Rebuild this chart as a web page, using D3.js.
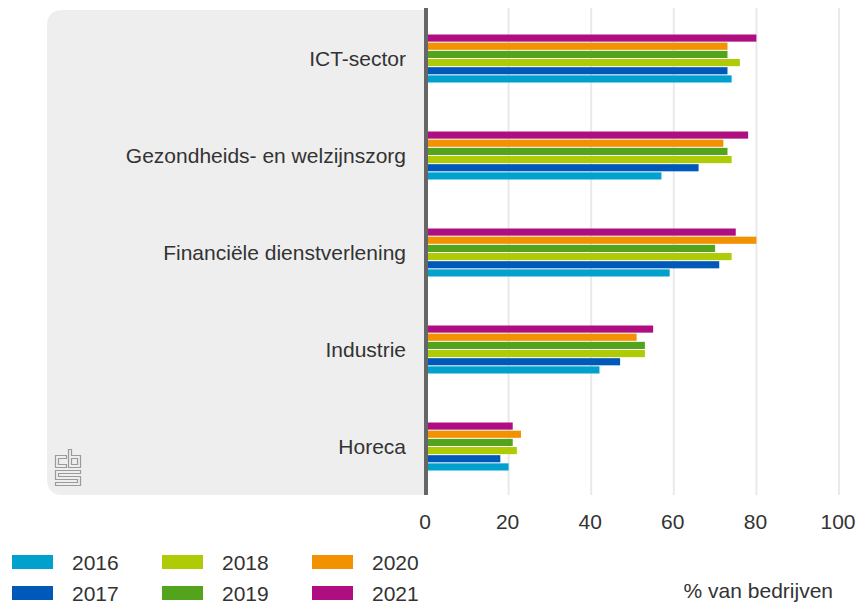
<!DOCTYPE html>
<html>
<head>
<meta charset="utf-8">
<script src="https://cdn.jsdelivr.net/npm/d3@7"></script>
<style>
  body { margin: 0; background: #fff; }
  svg { display: block; font-family: "Liberation Sans", Arial, sans-serif; }
</style>
</head>
<body>
<script>
// categories top to bottom
const categories = ["ICT-sector", "Gezondheids- en welzijnszorg", "Financiële dienstverlening", "Industrie", "Horeca"];
const years = ["2016", "2017", "2018", "2019", "2020", "2021"];
const colors = ["#00a1cd", "#0058b8", "#afcb05", "#53a31d", "#f39200", "#af0e80"];

// % van bedrijven, per year, in category order
const v2016 = [74, 57, 59, 42, 20];
const v2017 = [73, 66, 71, 47, 18];
const v2018 = [76, 74, 74, 53, 22];
const v2019 = [73, 73, 70, 53, 21];
const v2020 = [73, 72, 80, 51, 23];
const v2021 = [80, 78, 75, 55, 21];
const series = [v2016, v2017, v2018, v2019, v2020, v2021];

const xTicks = [0, 20, 40, 60, 80, 100];

const width = 861, height = 605;
const svg = d3.select("body").append("svg")
  .attr("width", width)
  .attr("height", height);

const x = d3.scaleLinear().domain([0, 100]).range([426, 839]);
const y = d3.scaleBand().domain(categories).range([10, 495]);
// bars inside a group: 2021 on top, 2016 at the bottom
const yInner = d3.scaleBand().domain(years.slice().reverse()).range([-24, 24]).paddingInner(0.125);

// grey label panel with rounded left corners
const px0 = 47, px1 = x(0), py0 = 10, py1 = 495, r = 16;
svg.append("path")
  .attr("fill", "#eeeeee")
  .attr("d", `M${px1},${py0} H${px0 + r} Q${px0},${py0} ${px0},${py0 + r} V${py1 - r} Q${px0},${py1} ${px0 + r},${py1} H${px1} Z`);

// gridlines
svg.append("g")
  .selectAll("line")
  .data(xTicks.slice(1))
  .join("line")
  .attr("x1", d => x(d)).attr("x2", d => x(d))
  .attr("y1", 8).attr("y2", 495)
  .attr("stroke", "#e9e9e9")
  .attr("stroke-width", 2);

// bars
const groups = svg.append("g")
  .selectAll("g")
  .data(categories)
  .join("g")
  .attr("transform", d => `translate(0,${y(d) + y.bandwidth() / 2})`);

groups.selectAll("rect")
  .data((c, i) => years.map((yr, j) => ({ year: yr, value: series[j][i], color: colors[j] })))
  .join("rect")
  .attr("x", x(0))
  .attr("y", d => yInner(d.year))
  .attr("width", d => x(d.value) - x(0))
  .attr("height", yInner.bandwidth())
  .attr("fill", d => d.color);

// category labels
groups.append("text")
  .attr("x", 406)
  .attr("y", 7)
  .attr("text-anchor", "end")
  .attr("font-size", 21)
  .attr("fill", "#333")
  .text(d => d);

// vertical axis line
svg.append("line")
  .attr("x1", x(0)).attr("x2", x(0))
  .attr("y1", 8).attr("y2", 495)
  .attr("stroke", "#666")
  .attr("stroke-width", 4);

// x tick labels
svg.append("g")
  .selectAll("text")
  .data(xTicks)
  .join("text")
  .attr("x", d => x(d) - 1)
  .attr("y", 529)
  .attr("text-anchor", "middle")
  .attr("font-size", 21)
  .attr("fill", "#333")
  .text(d => d);

// legend
const legend = svg.append("g");
const leg = legend.selectAll("g")
  .data(years)
  .join("g")
  .attr("transform", (d, i) => `translate(${12 + Math.floor(i / 2) * 150},${i % 2 === 0 ? 555 : 586})`);
leg.append("rect")
  .attr("width", 41).attr("height", 14)
  .attr("fill", (d, i) => colors[i]);
leg.append("text")
  .attr("x", 60).attr("y", 15)
  .attr("font-size", 21)
  .attr("fill", "#333")
  .text(d => d);

svg.append("text")
  .attr("x", 833).attr("y", 598)
  .attr("text-anchor", "end")
  .attr("font-size", 21)
  .attr("fill", "#333")
  .text("% van bedrijven");

// cbs logo (outline)
const logo = svg.append("g")
  .attr("fill", "none")
  .attr("stroke", "#9a9a9a")
  .attr("stroke-width", 1.2);
logo.append("path").attr("d", "M55.5,455.5 H66.5 V458.5 H58.5 V464.5 H66.5 V467.5 H55.5 Z");
logo.append("path").attr("d", "M68.5,449.5 H71.5 V455.5 H80.5 V467.5 H68.5 Z M71.5,458.5 H77.5 V464.5 H71.5 Z");
logo.append("path").attr("d", "M55.5,470.5 H80.5 V473.5 H58.5 V476.5 H80.5 V485.5 H55.5 V482.5 H77.5 V479.5 H55.5 Z");
</script>
</body>
</html>
